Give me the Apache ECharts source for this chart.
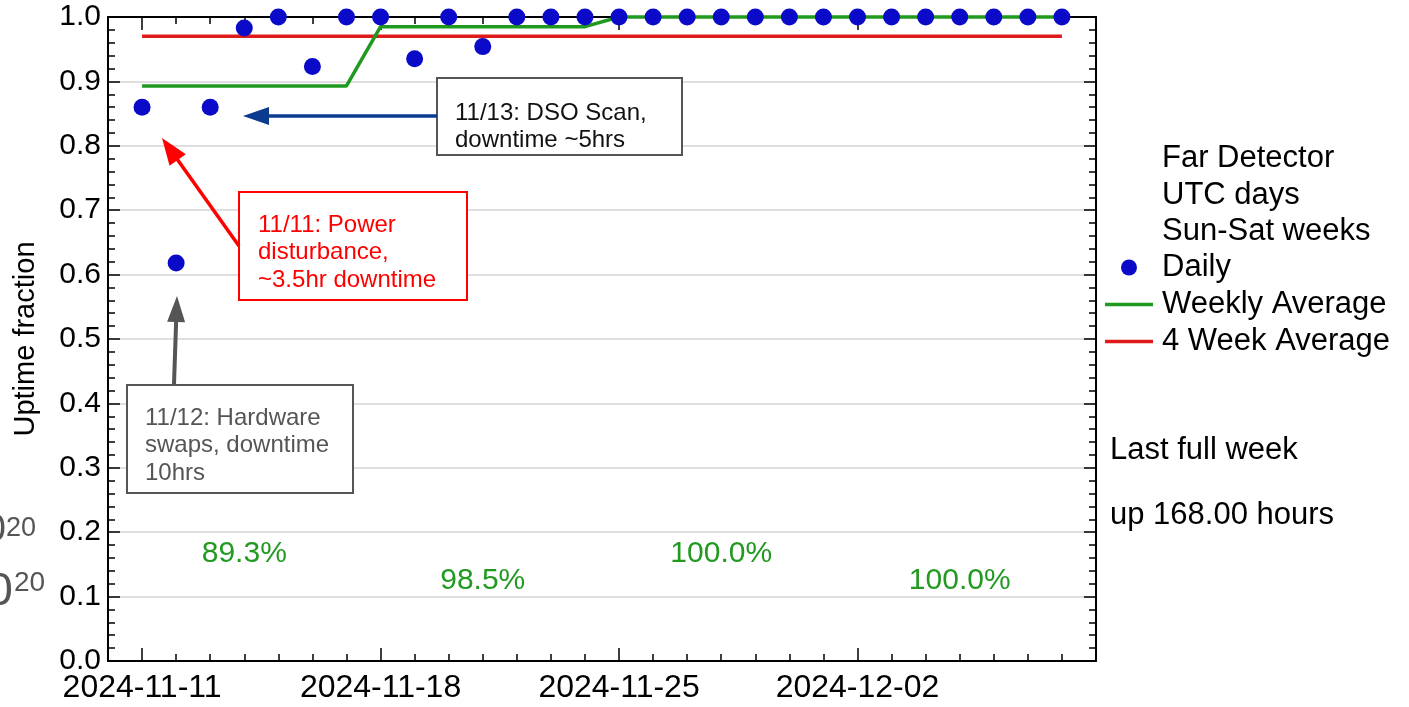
<!DOCTYPE html>
<html>
<head>
<meta charset="utf-8">
<script src="https://cdn.jsdelivr.net/npm/echarts@6/dist/echarts.min.js"></script>
<style>
html,body{margin:0;padding:0;background:#fff;}
#chart{width:1409px;height:707px;}
</style>
</head>
<body>
<div id="chart"></div>
<script>
// ---- data ----
const dates = ['2024-11-10','2024-11-11','2024-11-12','2024-11-13','2024-11-14','2024-11-15','2024-11-16',
  '2024-11-17','2024-11-18','2024-11-19','2024-11-20','2024-11-21','2024-11-22','2024-11-23',
  '2024-11-24','2024-11-25','2024-11-26','2024-11-27','2024-11-28','2024-11-29','2024-11-30',
  '2024-12-01','2024-12-02','2024-12-03','2024-12-04','2024-12-05','2024-12-06','2024-12-07',
  '2024-12-08','2024-12-09'];
const dataDates = dates.slice(1, 29); // 2024-11-11 .. 2024-12-08
const dailyUptime = [0.860, 0.618, 0.860, 0.983, 1.0, 0.923, 1.0,
                     1.0, 0.935, 1.0, 0.954, 1.0, 1.0, 1.0,
                     1.0, 1.0, 1.0, 1.0, 1.0, 1.0, 1.0,
                     1.0, 1.0, 1.0, 1.0, 1.0, 1.0, 1.0];
const weeklyAverage = [0.893, 0.893, 0.893, 0.893, 0.893, 0.893, 0.893,
                       0.985, 0.985, 0.985, 0.985, 0.985, 0.985, 0.985,
                       1.0, 1.0, 1.0, 1.0, 1.0, 1.0, 1.0,
                       1.0, 1.0, 1.0, 1.0, 1.0, 1.0, 1.0];
const fourWeekAverage = [0.970, 0.970, 0.970, 0.970, 0.970, 0.970, 0.970,
                         0.970, 0.970, 0.970, 0.970, 0.970, 0.970, 0.970,
                         0.970, 0.970, 0.970, 0.970, 0.970, 0.970, 0.970,
                         0.970, 0.970, 0.970, 0.970, 0.970, 0.970, 0.970];
const weekLabelDates = ['2024-11-14', '2024-11-21', '2024-11-28', '2024-12-05'];
const weekLabelTexts = ['89.3%', '98.5%', '100.0%', '100.0%'];
const weekLabelY = [0.167, 0.124, 0.167, 0.124];
const xTickLabels = ['2024-11-11', '2024-11-18', '2024-11-25', '2024-12-02'];

// ---- chart ----
const FONT = '"Liberation Sans", Arial, Helvetica, sans-serif';
const chart = echarts.init(document.getElementById('chart'), null, {renderer: 'canvas'});

const isMajor = (idx, val) => xTickLabels.indexOf(val) >= 0;

function xAxisCfg(position, major, showLabel, showLine) {
  return {
    type: 'category', position: position, data: dates, boundaryGap: false, gridIndex: 0,
    z: 0, zlevel: 0,
    axisLine: {show: showLine, onZero: false, lineStyle: {color: '#000', width: 2}},
    axisTick: {show: true, inside: true, length: major ? 13 : 7, interval: major ? isMajor : 0,
               lineStyle: {color: '#000', width: 1.5}},
    axisLabel: {show: showLabel, interval: isMajor, color: '#000', fontSize: 32, fontFamily: FONT, margin: 11},
    splitLine: {show: false}
  };
}
function yAxisCfg(position, showLabel) {
  return {
    type: 'value', position: position, min: 0, max: 1, interval: 0.1,
    z: 0, zlevel: 0,
    axisLine: {show: true, lineStyle: {color: '#000', width: 2}},
    axisTick: {show: true, inside: true, length: 12, lineStyle: {color: '#000', width: 1.5}},
    minorTick: {show: true, splitNumber: 5, length: 7, lineStyle: {color: '#000', width: 1.5}},
    axisLabel: {show: showLabel, color: '#000', fontSize: 30, fontFamily: FONT, margin: 7,
                formatter: v => v.toFixed(1)},
    splitLine: {show: showLabel, lineStyle: {color: '#d4d4d4', width: 1.5}},
    name: showLabel ? 'Uptime fraction' : '',
    nameLocation: 'middle', nameGap: 68, nameRotate: 90,
    nameTextStyle: {color: '#000', fontSize: 29, fontFamily: FONT}
  };
}

const pair = (arr) => arr.map((v, i) => [dataDates[i], v]);

const annoFont = '24px ' + FONT;
function textLines(x, y0, lh, lines, color) {
  return lines.map((t, i) => ({
    type: 'text', x: x, y: y0 + i * lh, z: 20,
    style: {text: t, fill: color, font: annoFont, textVerticalAlign: 'middle', textAlign: 'left'}
  }));
}
function arrow(x1, y1, x2, y2, color, w, headLen, headHalf) {
  const dx = x2 - x1, dy = y2 - y1, L = Math.hypot(dx, dy);
  const ux = dx / L, uy = dy / L, px = -uy, py = ux;
  const bx = x2 - ux * headLen, by = y2 - uy * headLen;
  return [
    {type: 'line', z: 20, shape: {x1: x1, y1: y1, x2: bx + ux * 2, y2: by + uy * 2},
     style: {stroke: color, lineWidth: w}},
    {type: 'polygon', z: 20, shape: {points: [[x2, y2], [bx + px * headHalf, by + py * headHalf], [bx - px * headHalf, by - py * headHalf]]},
     style: {fill: color}}
  ];
}
function box(x, y, w, h, color) {
  return {type: 'rect', z: 19, shape: {x: x, y: y, width: w, height: h},
          style: {fill: '#fff', stroke: color, lineWidth: 2}};
}
const bigFont = '31px ' + FONT;

const graphics = [].concat(
  // annotation: DSO scan
  [box(437, 78, 245, 77, '#555')],
  textLines(455, 113, 27, ['11/13: DSO Scan,', 'downtime ~5hrs'], '#111'),
  arrow(437, 116, 243, 116, '#0b3b8f', 3.5, 26, 9),
  // annotation: power disturbance
  [box(239, 192, 228, 108, '#ff0000')],
  textLines(258, 225, 27.5, ['11/11: Power', 'disturbance,', '~3.5hr downtime'], '#ff0000'),
  arrow(239, 246, 162, 138, '#ff0000', 3.5, 27, 10),
  // annotation: hardware swaps
  [box(127, 385, 226, 108, '#555')],
  textLines(145, 418, 27.5, ['11/12: Hardware', 'swaps, downtime', '10hrs'], '#555'),
  arrow(174, 384, 177, 296, '#555', 4, 26, 9),
  // right-hand header text
  [
    {type: 'text', x: 1162, y: 158, style: {text: 'Far Detector', fill: '#000', font: bigFont, textVerticalAlign: 'middle'}},
    {type: 'text', x: 1162, y: 195, style: {text: 'UTC days', fill: '#000', font: bigFont, textVerticalAlign: 'middle'}},
    {type: 'text', x: 1162, y: 231, style: {text: 'Sun-Sat weeks', fill: '#000', font: bigFont, textVerticalAlign: 'middle'}},
    {type: 'text', x: 1110, y: 450, style: {text: 'Last full week', fill: '#000', font: bigFont, textVerticalAlign: 'middle'}},
    {type: 'text', x: 1110, y: 515, style: {text: 'up 168.00 hours', fill: '#000', font: bigFont, textVerticalAlign: 'middle'}},
    // stray slide fragments at the left edge
    {type: 'text', x: 6, y: 531, style: {text: '0', fill: '#555', font: '38px ' + FONT, textVerticalAlign: 'middle', textAlign: 'right'}},
    {type: 'text', x: 6, y: 529, style: {text: '20', fill: '#555', font: '27px ' + FONT, textVerticalAlign: 'middle', textAlign: 'left'}},
    {type: 'text', x: 13, y: 592, style: {text: '0', fill: '#555', font: '47px ' + FONT, textVerticalAlign: 'middle', textAlign: 'right'}},
    {type: 'text', x: 14, y: 583, style: {text: '20', fill: '#555', font: '28px ' + FONT, textVerticalAlign: 'middle', textAlign: 'left'}}
  ]
);

const lineIcon = 'path://M0 0H48V3.5H0Z';

const option = {
  backgroundColor: '#fff',
  animation: false,
  grid: {left: 108, right: 313, top: 17, bottom: 46, containLabel: false},
  xAxis: [
    xAxisCfg('bottom', false, false, true),
    xAxisCfg('bottom', true, true, false),
    xAxisCfg('top', false, false, true),
    xAxisCfg('top', true, false, false)
  ],
  yAxis: [yAxisCfg('left', true), yAxisCfg('right', false)],
  legend: {
    orient: 'vertical', left: 1105, top: 252, padding: 0, itemGap: 6,
    itemWidth: 48, itemHeight: 16, symbolKeepAspect: true,
    textStyle: {color: '#000', fontSize: 31, fontFamily: FONT, lineHeight: 30, padding: [0, 0, 0, 4]},
    data: [
      {name: 'Daily', icon: 'circle'},
      {name: 'Weekly Average', icon: lineIcon},
      {name: '4 Week Average', icon: lineIcon}
    ],
    selectedMode: false
  },
  series: [
    {
      name: '4 Week Average', type: 'line', xAxisIndex: 0, yAxisIndex: 0,
      data: pair(fourWeekAverage), showSymbol: false, symbol: 'none', clip: false,
      lineStyle: {color: '#e01b1b', width: 3.5}, itemStyle: {color: '#e01b1b'}, z: 10
    },
    {
      name: 'Weekly Average', type: 'line', xAxisIndex: 0, yAxisIndex: 0,
      data: pair(weeklyAverage), showSymbol: false, symbol: 'none', clip: false,
      lineStyle: {color: '#1f9a1f', width: 3.5}, itemStyle: {color: '#1f9a1f'}, z: 11
    },
    {
      name: 'Daily', type: 'scatter', xAxisIndex: 0, yAxisIndex: 0,
      data: pair(dailyUptime), symbol: 'circle', symbolSize: 17, clip: false,
      itemStyle: {color: '#0a0ac8', opacity: 1}, z: 12
    },
    {
      name: 'weekLabels', type: 'scatter', xAxisIndex: 0, yAxisIndex: 0,
      data: weekLabelDates.map((d, i) => ({value: [d, weekLabelY[i]], text: weekLabelTexts[i]})),
      symbolSize: 1, itemStyle: {color: 'rgba(0,0,0,0)', opacity: 1}, silent: true, z: 12,
      label: {show: true, position: 'inside', formatter: p => p.data.text, opacity: 1,
              color: '#229a22', fontSize: 30, fontFamily: FONT}
    }
  ],
  graphic: graphics
};
chart.setOption(option);
</script>
</body>
</html>
